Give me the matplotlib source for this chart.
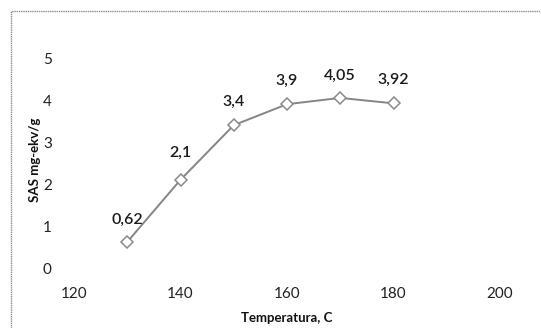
import matplotlib
matplotlib.use("Agg")
import matplotlib.pyplot as plt
from matplotlib.patches import Rectangle

# Data
temperature = [130, 140, 150, 160, 170, 180]
sas_values = [0.62, 2.1, 3.4, 3.9, 4.05, 3.92]
value_labels = ["0,62", "2,1", "3,4", "3,9", "4,05", "3,92"]
x_ticks = [120, 140, 160, 180, 200]
y_ticks = [0, 1, 2, 3, 4, 5]

# label offsets in points (styling)
label_offsets = [(0, 11), (0, 14), (0, 12), (0, 12), (0, 11), (0, 12)]

W, H = 541, 328
fig = plt.figure(figsize=(W / 100, H / 100), dpi=100)
plt.rcParams['font.family'] = ['Lato', 'DejaVu Sans']

# outer frame (cropped at right/bottom)
fig.patches.append(Rectangle((11 / W, -0.05), 1.1, 1 - 11 / H + 0.05,
                             transform=fig.transFigure, fill=False,
                             edgecolor='#8c8c8c', linewidth=1.0,
                             linestyle=(0, (1, 0.6))))

ax = fig.add_axes([74 / W, (H - 268) / H, 426 / W, 210 / H])
ax.set_xlim(120, 200)
ax.set_ylim(0, 5)
for s in ax.spines.values():
    s.set_visible(False)
ax.set_facecolor('none')

ax.plot(temperature, sas_values, color='#858585', linewidth=1.4,
        marker='D', markersize=6.5, markerfacecolor='white',
        markeredgecolor='#8a8a8a', markeredgewidth=1.1, clip_on=False)

for x, y, lab, off in zip(temperature, sas_values, value_labels, label_offsets):
    ax.annotate(lab, (x, y), xytext=off, textcoords='offset points',
                ha='center', va='bottom', fontsize=11.5, color='#1a1a1a',
                fontweight='semibold')

ax.set_xticks(x_ticks)
ax.set_yticks(y_ticks)
ax.tick_params(axis='both', length=0, labelsize=11, labelcolor='#222222')
ax.tick_params(axis='x', pad=14)
ax.tick_params(axis='y', pad=16)

ax.set_xlabel("Temperatura, C", fontsize=9.5, fontweight='bold',
              color='#111111', va='center')
ax.set_ylabel("SAS mg-ekv/g", fontsize=9.5, fontweight='bold',
              color='#111111', va='center')
ax.xaxis.set_label_coords((287 - 74) / 426, (268 - 318) / 210)
ax.yaxis.set_label_coords((35 - 74) / 426, (268 - 160) / 210)

fig.savefig("out.png", dpi=100)
